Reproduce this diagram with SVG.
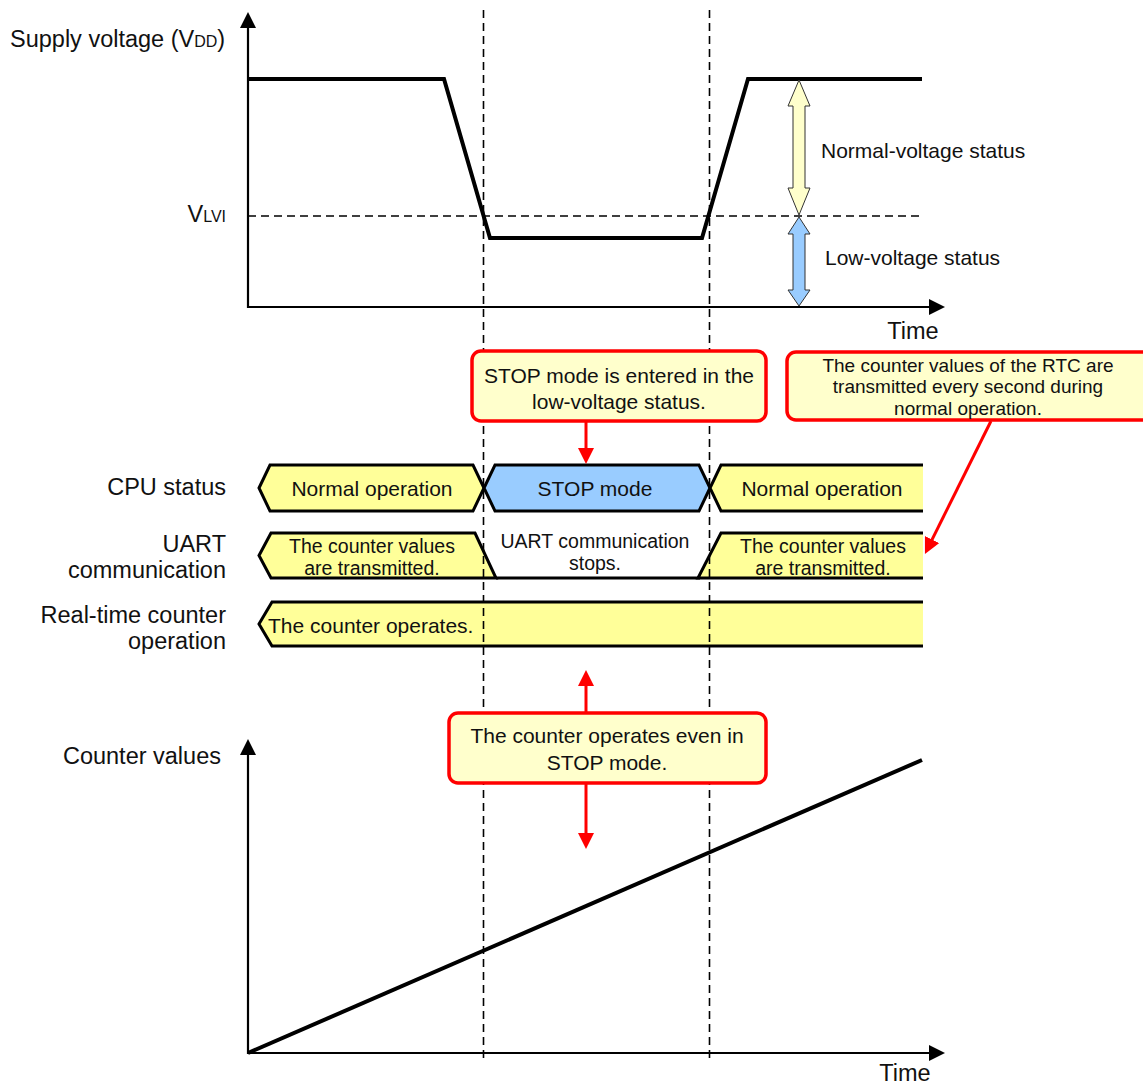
<svg xmlns="http://www.w3.org/2000/svg" width="1143" height="1086" viewBox="0 0 1143 1086">
  <style>
    text { font-family: "Liberation Sans", Arial, Helvetica, sans-serif; fill: #111; }
    .lbl { font-size: 23.5px; }
    .sub { font-size: 16px; }
    .t21 { font-size: 21px; }
    .t19 { font-size: 19.5px; }
    .t19s { font-size: 19px; }
    .mid { text-anchor: middle; }
    .end { text-anchor: end; }
    .axis { stroke: #000; stroke-width: 2.2; fill: none; }
    .wave { stroke: #000; stroke-width: 4; fill: none; stroke-linejoin: miter; }
    .dash { stroke: #000; stroke-width: 1.6; stroke-dasharray: 8 5; fill: none; }
    .sig { stroke: #000; stroke-width: 3; stroke-linejoin: miter; }
    .yel { fill: #FFFF99; }
    .blu { fill: #99CCFF; }
    .open { fill: none; stroke: #000; stroke-width: 3; }
    .callout { fill: #FFFFCC; stroke: #FF0000; stroke-width: 3.5; }
    .red { stroke: #FF0000; stroke-width: 3; fill: none; }
    .band { stroke: #333; stroke-width: 1; }
  </style>
  <defs>
    <marker id="axhead" markerUnits="userSpaceOnUse" markerWidth="16" markerHeight="16" refX="2" refY="8" orient="auto">
      <path d="M0,0 L16,8 L0,16 z" fill="#000"/>
    </marker>
    <marker id="redhead" markerUnits="userSpaceOnUse" markerWidth="16" markerHeight="16" refX="4" refY="8" orient="auto">
      <path d="M0,0 L16,8 L0,16 z" fill="#FF0000"/>
    </marker>
  </defs>

  <rect width="1143" height="1086" fill="#fff"/>

  <!-- supply voltage chart -->
  <g id="supply-chart">
    <line class="axis" x1="248" y1="308" x2="248" y2="26" marker-end="url(#axhead)"/>
    <line class="axis" x1="247" y1="307" x2="931" y2="307" marker-end="url(#axhead)"/>
    <line class="dash" x1="248" y1="216" x2="922" y2="216"/>
    <polyline class="wave" points="248,79 444,79 490,238 702,238 748,79 922,79"/>
    <text class="lbl" x="10" y="47">Supply voltage (V<tspan class="sub">DD</tspan>)</text>
    <text class="lbl end" x="226" y="222">V<tspan class="sub">LVI</tspan></text>
    <text class="lbl mid" x="913" y="339">Time</text>
  </g>

  <!-- voltage status ranges -->
  <g id="normal-voltage">
    <polygon class="band" fill="#FFFFCC" points="799,80 810,106 805,106 805,188 810,188 799,215 788,188 793,188 793,106 788,106"/>
    <text class="t21" x="821" y="158">Normal-voltage status</text>
  </g>
  <g id="low-voltage">
    <polygon class="band" fill="#99CCFF" points="799,217 810,234 805,234 805,290 810,290 799,306 788,290 793,290 793,234 788,234"/>
    <text class="t21" x="825" y="265">Low-voltage status</text>
  </g>

  <!-- row labels -->
  <g id="row-labels">
    <text class="lbl end" x="226" y="495">CPU status</text>
    <text class="lbl end" x="226" y="552">UART</text>
    <text class="lbl end" x="226" y="578">communication</text>
    <text class="lbl end" x="226" y="623">Real-time counter</text>
    <text class="lbl end" x="226" y="649">operation</text>
  </g>

  <!-- CPU status row -->
  <g id="cpu-normal-1">
    <polygon class="sig yel" points="259,488 270,465 473,465 484,488 473,511 270,511"/>
    <text class="t21 mid" x="372" y="496">Normal operation</text>
  </g>
  <g id="cpu-stop">
    <polygon class="sig blu" points="484,488 495,465 699,465 710,488 699,511 495,511"/>
    <text class="t21 mid" x="595" y="496">STOP mode</text>
  </g>
  <g id="cpu-normal-2">
    <polygon class="yel" points="710,488 721,465 923,465 923,511 721,511"/>
    <path class="open" d="M923,465 L721,465 L710,488 L721,511 L923,511"/>
    <text class="t21 mid" x="822" y="496">Normal operation</text>
  </g>

  <!-- UART row -->
  <g id="uart-tx-1">
    <polygon class="sig yel" points="259,555.5 271,533 475,533 496,578 271,578"/>
    <text class="t19 mid" x="372" y="553">The counter values</text>
    <text class="t19 mid" x="372" y="575">are transmitted.</text>
  </g>
  <g id="uart-stop">
    <line class="open" x1="496" y1="578" x2="700" y2="578"/>
    <text class="t19 mid" x="595" y="548">UART communication</text>
    <text class="t19 mid" x="595" y="570">stops.</text>
  </g>
  <g id="uart-tx-2">
    <polygon class="yel" points="698,578 721,533 923,533 923,578"/>
    <path class="open" d="M923,533 L721,533 L698,578 L923,578"/>
    <text class="t19 mid" x="823" y="553">The counter values</text>
    <text class="t19 mid" x="823" y="575">are transmitted.</text>
  </g>

  <!-- real-time counter row -->
  <g id="rtc-operates">
    <polygon class="yel" points="259,624 272,602 923,602 923,646 272,646"/>
    <path class="open" d="M923,602 L272,602 L259,624 L272,646 L923,646"/>
    <text class="t21" x="268" y="633">The counter operates.</text>
  </g>

  <!-- counter value chart -->
  <g id="counter-chart">
    <line class="axis" x1="248" y1="1054" x2="248" y2="753" marker-end="url(#axhead)"/>
    <line class="axis" x1="247" y1="1053" x2="931" y2="1053" marker-end="url(#axhead)"/>
    <line class="wave" x1="248" y1="1053" x2="922" y2="760"/>
    <text class="lbl end" x="221" y="764">Counter values</text>
    <text class="lbl mid" x="905" y="1081">Time</text>
  </g>

  <!-- mode boundaries -->
  <g id="boundaries">
    <line class="dash" x1="483.5" y1="10" x2="483.5" y2="1060"/>
    <line class="dash" x1="709.5" y1="10" x2="709.5" y2="1060"/>
  </g>

  <!-- callout pointers -->
  <g id="connectors">
    <line class="red" x1="586" y1="421" x2="586" y2="452" marker-end="url(#redhead)"/>
    <line class="red" x1="991" y1="421" x2="930.3" y2="543.2" marker-end="url(#redhead)"/>
    <line class="red" x1="586" y1="713" x2="586" y2="682" marker-end="url(#redhead)"/>
    <line class="red" x1="586" y1="783" x2="586" y2="837" marker-end="url(#redhead)"/>
  </g>

  <!-- callouts -->
  <g id="note-stop-entry">
    <rect class="callout" x="472" y="351" width="294" height="70" rx="9"/>
    <text class="t21 mid" x="619" y="383">STOP mode is entered in the</text>
    <text class="t21 mid" x="619" y="409">low-voltage status.</text>
  </g>
  <g id="note-rtc-transmit">
    <rect class="callout" x="787" y="352" width="370" height="68" rx="9"/>
    <text class="t19s mid" x="968" y="371.5">The counter values of the RTC are</text>
    <text class="t19s mid" x="968" y="393">transmitted every second during</text>
    <text class="t19s mid" x="968" y="414.5">normal operation.</text>
  </g>
  <g id="note-counter-stop">
    <rect class="callout" x="449" y="713" width="317" height="70" rx="9"/>
    <text class="t21 mid" x="607" y="743">The counter operates even in</text>
    <text class="t21 mid" x="607" y="770">STOP mode.</text>
  </g>
</svg>
